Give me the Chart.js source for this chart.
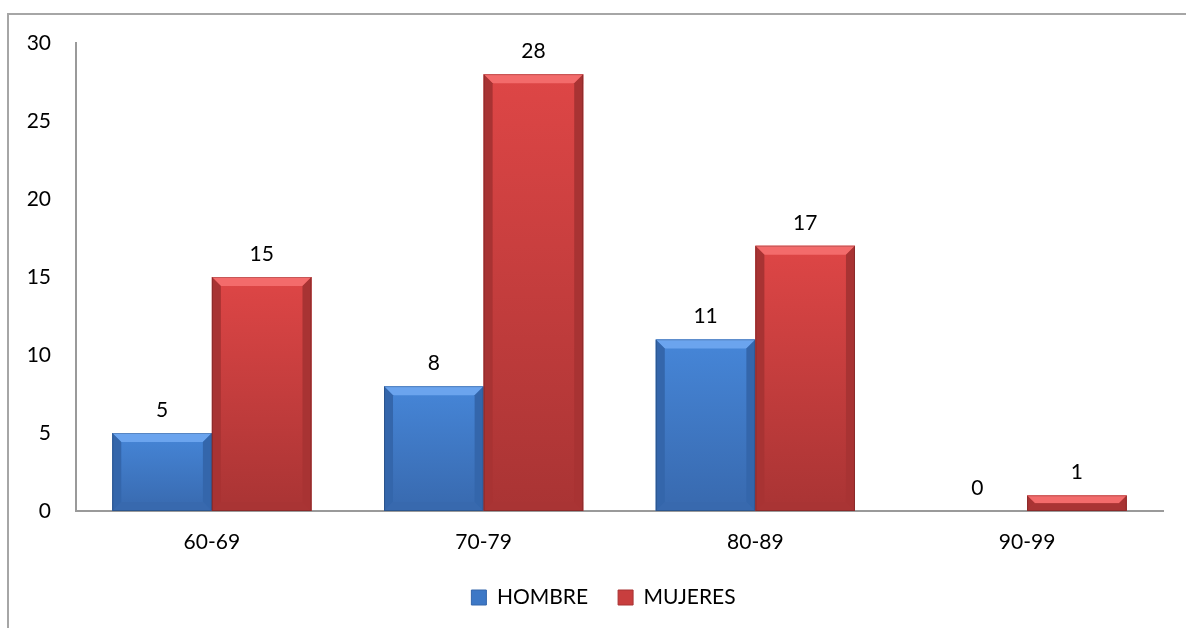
<!DOCTYPE html>
<html>
<head>
<meta charset="utf-8">
<script src="https://cdn.jsdelivr.net/npm/chart.js@4.4.1/dist/chart.umd.min.js"></script>
<style>
  html, body { margin: 0; padding: 0; background: #fff; }
  #wrap { width: 1186px; height: 628px; position: relative; }
</style>
</head>
<body>
<div id="wrap"><canvas id="ageChart"></canvas></div>
<script>
const ageGroups = ['60-69', '70-79', '80-89', '90-99'];
const hombre = [5, 8, 11, 0];
const mujeres = [15, 28, 17, 1];
const yTicks = [0, 5, 10, 15, 20, 25, 30];

const FONT = 'Lato, "Open Sans", sans-serif';
const FONT_SIZE = 21;

// shading used for the bevelled bars
const blueShade = { top: '#4686d8', bottom: '#3869ae', light: '#6ba4ee', dark: '#3466ab', base: '#3d78c6' };
const redShade  = { top: '#de4646', bottom: '#a93434', light: '#f36b6b', dark: '#a83333', base: '#c83e3e' };

// outer frame, only top and left edges fall inside the canvas
const frame = {
    id: 'frame',
    beforeDraw(chart) {
        const ctx = chart.ctx;
        ctx.save();
        ctx.strokeStyle = '#a6a6a6';
        ctx.lineWidth = 2;
        ctx.beginPath();
        ctx.moveTo(8, chart.height);
        ctx.lineTo(8, 14);
        ctx.lineTo(chart.width, 14);
        ctx.stroke();
        ctx.restore();
    }
};

// legend sits a little right of the canvas centre
const legendShift = {
    id: 'legendShift',
    afterLayout(chart) {
        if (!chart.legend) return;
        chart.legend.left += 22;
        chart.legend.right += 22;
    }
};

const bevel = {
    id: 'bevel',
    afterDatasetsDraw(chart) {
        const ctx = chart.ctx;
        chart.data.datasets.forEach((ds, i) => {
            const meta = chart.getDatasetMeta(i);
            meta.data.forEach(bar => {
                const { x, y, base, width } = bar.getProps(['x', 'y', 'base', 'width'], true);
                const h = base - y;
                if (h <= 0) return;
                const l = x - width / 2, r = x + width / 2;
                const s = ds.shade;
                const b = Math.min(9, h / 2);
                ctx.save();
                const g = ctx.createLinearGradient(0, y, 0, base);
                g.addColorStop(0, s.top);
                g.addColorStop(1, s.bottom);
                ctx.fillStyle = g;
                ctx.fillRect(l, y, width, h);

                const quad = (pts, fill) => {
                    ctx.beginPath();
                    ctx.moveTo(pts[0][0], pts[0][1]);
                    for (let k = 1; k < pts.length; k++) ctx.lineTo(pts[k][0], pts[k][1]);
                    ctx.closePath();
                    ctx.fillStyle = fill;
                    ctx.fill();
                };
                quad([[l, y], [r, y], [r - b, y + b], [l + b, y + b]], s.light);
                quad([[l, y], [l + b, y + b], [l + b, base - b], [l, base]], s.dark);
                quad([[r, y], [r - b, y + b], [r - b, base - b], [r, base]], s.dark);
                quad([[l, base], [l + b, base - b], [r - b, base - b], [r, base]], s.bottom);

                ctx.strokeStyle = 'rgba(0,0,0,0.18)';
                ctx.lineWidth = 1;
                ctx.strokeRect(l + 0.5, y + 0.5, width - 1, h - 1);
                ctx.restore();
            });
        });
    }
};

// value labels above every bar
const valueLabels = {
    id: 'valueLabels',
    afterDatasetsDraw(chart) {
        const ctx = chart.ctx;
        ctx.save();
        ctx.font = FONT_SIZE + 'px ' + FONT;
        ctx.fillStyle = '#000';
        ctx.textAlign = 'center';
        ctx.textBaseline = 'middle';
        chart.data.datasets.forEach((ds, i) => {
            chart.getDatasetMeta(i).data.forEach((bar, j) => {
                ctx.fillText(String(ds.data[j]), bar.x, bar.y - 23);
            });
        });
        ctx.restore();
    }
};

new Chart(document.getElementById('ageChart'), {
    type: 'bar',
    data: {
        labels: ageGroups,
        datasets: [
            { label: 'HOMBRE', data: hombre, backgroundColor: blueShade.base, shade: blueShade },
            { label: 'MUJERES', data: mujeres, backgroundColor: redShade.base, shade: redShade }
        ]
    },
    options: {
        responsive: true,
        maintainAspectRatio: false,
        animation: false,
        categoryPercentage: 0.733,
        barPercentage: 1,
        layout: { padding: { top: 43, right: 23, bottom: 10, left: 0 } },
        plugins: {
            tooltip: { enabled: false },
            legend: {
                position: 'bottom',
                labels: {
                    color: '#000',
                    font: { family: FONT, size: FONT_SIZE },
                    boxWidth: 15,
                    boxHeight: 15,
                    padding: 30,
                    generateLabels: chart => chart.data.datasets.map((ds, i) => ({
                        text: ds.label,
                        fillStyle: ds.shade.base,
                        strokeStyle: ds.shade.dark,
                        lineWidth: 1,
                        datasetIndex: i
                    }))
                }
            }
        },
        scales: {
            x: {
                grid: { display: false, drawTicks: false },
                border: { display: true, color: '#9a9a9a', width: 2 },
                ticks: { color: '#000', font: { family: FONT, size: FONT_SIZE }, padding: 19 },
                afterFit: s => { s.height = 46; }
            },
            y: {
                min: 0,
                max: 30,
                afterBuildTicks: s => { s.ticks = yTicks.map(v => ({ value: v })); },
                grid: { display: false, drawTicks: false },
                border: { display: true, color: '#9a9a9a', width: 2 },
                ticks: { color: '#000', font: { family: FONT, size: FONT_SIZE }, padding: 25 },
                afterFit: s => { s.width = 76; }
            }
        }
    },
    plugins: [frame, legendShift, bevel, valueLabels]
});
</script>
</body>
</html>
